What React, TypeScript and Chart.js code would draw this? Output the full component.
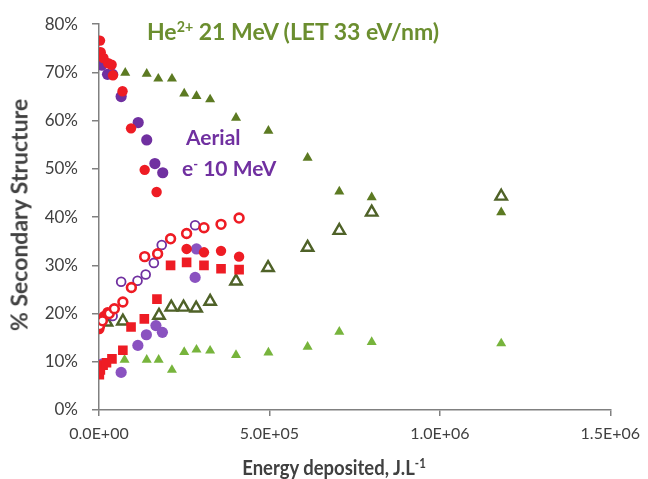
import React, { useEffect, useRef } from "react";
import { Chart, registerables } from "chart.js";

Chart.register(...registerables);

// ---- tick labels ----
const xTickValues = [0, 500000, 1000000, 1500000];
const yTickValues = [0, 10, 20, 30, 40, 50, 60, 70, 80];

// ---- He2+ 21 MeV series ----
const heHelixX = [77000, 140000, 174000, 214000, 250000, 286000, 326000, 402000, 497000, 612000, 705000, 800000, 1180000];
const heHelixY = [69.9, 69.7, 68.7, 68.7, 65.6, 65.1, 64.4, 60.6, 57.9, 52.3, 45.3, 44.1, 41.0];

const heOpenX = [22000, 70000, 176000, 212000, 248000, 285000, 326000, 402000, 496000, 612000, 705000, 800000, 1180000];
const heOpenY = [18.2, 18.4, 19.6, 21.3, 21.3, 21.1, 22.5, 26.7, 29.5, 33.7, 37.2, 41.0, 44.3];

const heLowX = [75000, 140000, 175000, 214000, 250000, 286000, 326000, 402000, 497000, 612000, 705000, 800000, 1180000];
const heLowY = [10.4, 10.4, 10.4, 8.3, 12.0, 12.5, 12.3, 11.4, 11.9, 13.1, 16.2, 14.1, 13.8];

// ---- red series ----
const redHelixX = [3000, 5000, 13000, 27000, 37000, 41000, 69000, 94000, 134000, 169000];
const redHelixY = [76.6, 74.2, 73.0, 71.9, 71.6, 69.4, 66.1, 58.4, 49.8, 45.2];

const redOpenX = [2000, 10000, 30000, 45000, 70000, 95000, 134000, 172000, 210000, 257000, 308000, 358000, 411000];
const redOpenY = [17.5, 18.5, 20.0, 21.0, 22.4, 25.4, 31.8, 32.4, 35.5, 36.6, 37.8, 38.5, 39.8];

const redDotX = [1000, 4000, 8000, 15000, 25000, 257000, 308000, 358000, 411000];
const redDotY = [16.8, 18.0, 19.0, 19.5, 20.3, 33.4, 32.7, 33.0, 31.8];

const redSquareX = [1000, 4000, 12000, 22000, 38000, 70000, 94000, 133000, 170000, 210000, 257000, 308000, 358000, 411000];
const redSquareY = [7.3, 8.3, 9.3, 9.8, 10.6, 12.4, 17.2, 18.9, 23.0, 30.0, 30.6, 30.0, 29.3, 29.1];

// ---- purple (aerial, e- 10 MeV) series ----
const purpleHelixX = [1000, 8000, 25000, 40000, 65000, 115000, 140000, 164000, 187000];
const purpleHelixY = [72.3, 71.5, 69.6, 69.6, 65.0, 59.6, 56.0, 51.1, 49.2];

const purpleOpenX = [4000, 40000, 65000, 113000, 137000, 161000, 184000, 282000];
const purpleOpenY = [18.3, 19.5, 26.6, 26.8, 28.1, 30.5, 34.2, 38.3];

const purpleLowX = [8000, 65000, 114000, 139000, 167000, 186000, 282000, 286000];
const purpleLowY = [9.5, 7.8, 13.4, 15.6, 17.5, 16.1, 27.5, 33.4];

const RED = "#ee1c24";
const PURPLE = "#7030a0";
const OLIVE = "#5c7a22";
const OLIVE_DARK = "#4f6228";
const LIGHT_GREEN = "#77b43c";
const AXIS = "#808080";
const TEXT = "#404040";

const pts = (xs: number[], ys: number[]) => xs.map((x, i) => ({ x, y: ys[i] }));

const fmtExp = (v: number) =>
  Number(v).toExponential(1).toUpperCase().replace(/E([+-])(\d)$/, "E$10$2");

export default function App() {
  const ref = useRef<HTMLCanvasElement | null>(null);

  useEffect(() => {
    if (!ref.current) return;
    const chart = new Chart(ref.current, {
      type: "scatter",
      data: {
        datasets: [
          { data: pts(redHelixX, redHelixY), pointStyle: "circle", pointRadius: 5.2, backgroundColor: RED, borderColor: RED, borderWidth: 0, order: 1 },
          { data: pts(purpleHelixX, purpleHelixY), pointStyle: "circle", pointRadius: 5.6, backgroundColor: PURPLE, borderColor: PURPLE, borderWidth: 0, order: 2 },
          { data: pts(redOpenX, redOpenY), pointStyle: "circle", pointRadius: 4.4, backgroundColor: "#ffffff", borderColor: RED, borderWidth: 2.6, order: 1 },
          { data: pts(purpleOpenX, purpleOpenY), pointStyle: "circle", pointRadius: 4.4, backgroundColor: "#ffffff", borderColor: PURPLE, borderWidth: 1.8, order: 2 },
          { data: pts(redDotX, redDotY), pointStyle: "circle", pointRadius: 5.2, backgroundColor: RED, borderColor: RED, borderWidth: 0, order: 1 },
          { data: pts(redSquareX, redSquareY), pointStyle: "rect", pointRadius: 6.8, backgroundColor: RED, borderColor: RED, borderWidth: 0, order: 1 },
          { data: pts(purpleLowX, purpleLowY), pointStyle: "circle", pointRadius: 5.6, backgroundColor: "#8a52c0", borderColor: "#8a52c0", borderWidth: 0, order: 3 },
          { data: pts(heHelixX, heHelixY), pointStyle: "triangle", pointRadius: 5.8, backgroundColor: OLIVE, borderColor: OLIVE, borderWidth: 0, order: 4 },
          { data: pts(heOpenX, heOpenY), pointStyle: "triangle", pointRadius: 6.6, backgroundColor: "#ffffff", borderColor: OLIVE_DARK, borderWidth: 2.4, order: 4 },
          { data: pts(heLowX, heLowY), pointStyle: "triangle", pointRadius: 5.8, backgroundColor: LIGHT_GREEN, borderColor: LIGHT_GREEN, borderWidth: 0, order: 4 },
        ],
      },
      options: {
        animation: false,
        responsive: false,
        maintainAspectRatio: false,
        layout: { padding: { top: 23, right: 29, bottom: 0, left: 0 } },
        plugins: { legend: { display: false }, tooltip: { enabled: false }, title: { display: false } },
        scales: {
          x: {
            type: "linear",
            min: 0,
            max: 1500000,
            afterBuildTicks: (s: any) => {
              s.ticks = xTickValues.map((v) => ({ value: v }));
            },
            afterFit: (s: any) => {
              s.height = 69;
            },
            ticks: {
              callback: (v: any) => fmtExp(Number(v)),
              color: TEXT,
              font: { family: "Lato", size: 16 },
              padding: 8,
              maxRotation: 0,
              autoSkip: false,
            },
            grid: { drawOnChartArea: false, drawTicks: true, tickLength: 6, color: AXIS, lineWidth: 1.5 },
            border: { color: AXIS, width: 1.5 },
          },
          y: {
            type: "linear",
            min: 0,
            max: 80,
            afterBuildTicks: (s: any) => {
              s.ticks = yTickValues.map((v) => ({ value: v }));
            },
            afterFit: (s: any) => {
              s.width = 99;
            },
            ticks: {
              callback: (v: any) => `${v}%`,
              color: TEXT,
              font: { family: "Lato", size: 17 },
              padding: 14,
              autoSkip: false,
            },
            grid: { drawOnChartArea: false, drawTicks: true, tickLength: 7, color: AXIS, lineWidth: 1.5 },
            border: { color: AXIS, width: 1.5 },
          },
        },
      },
    } as any);
    return () => chart.destroy();
  }, []);

  const sup: React.CSSProperties = { fontSize: "0.62em", position: "relative", top: "-0.55em", verticalAlign: "baseline" };

  return (
    <div style={{ position: "relative", width: 648, height: 479, background: "#ffffff", fontFamily: "Lato, sans-serif" }}>
      <style>{`body{margin:0}`}</style>
      <canvas ref={ref} width={648} height={479} style={{ display: "block", width: 648, height: 479 }} />
      <div style={{ position: "absolute", left: 147, top: 20, fontSize: 23, lineHeight: 1, fontWeight: 700, color: "#6b8e2f", whiteSpace: "nowrap" }}>
        He<span style={sup}>2+</span> 21 MeV (LET 33 eV/nm)
      </div>
      <div style={{ position: "absolute", left: 186, top: 126, fontSize: 21, lineHeight: 1, fontWeight: 700, color: PURPLE, whiteSpace: "nowrap" }}>
        Aerial
      </div>
      <div style={{ position: "absolute", left: 182, top: 157, fontSize: 21, lineHeight: 1, fontWeight: 700, color: PURPLE, whiteSpace: "nowrap" }}>
        e<span style={sup}>-</span> 10 MeV
      </div>
      <div style={{ position: "absolute", left: 334, top: 456, transform: "translateX(-50%) scaleX(0.88)", fontSize: 21, lineHeight: 1, fontWeight: 700, color: TEXT, whiteSpace: "nowrap" }}>
        Energy deposited, J.L<span style={sup}>-1</span>
      </div>
      <div style={{ position: "absolute", left: 19, top: 215, transform: "translate(-50%, -50%) rotate(-90deg)", fontSize: 23, lineHeight: 1, fontWeight: 700, color: TEXT, whiteSpace: "nowrap" }}>
        % Secondary Structure
      </div>
    </div>
  );
}
